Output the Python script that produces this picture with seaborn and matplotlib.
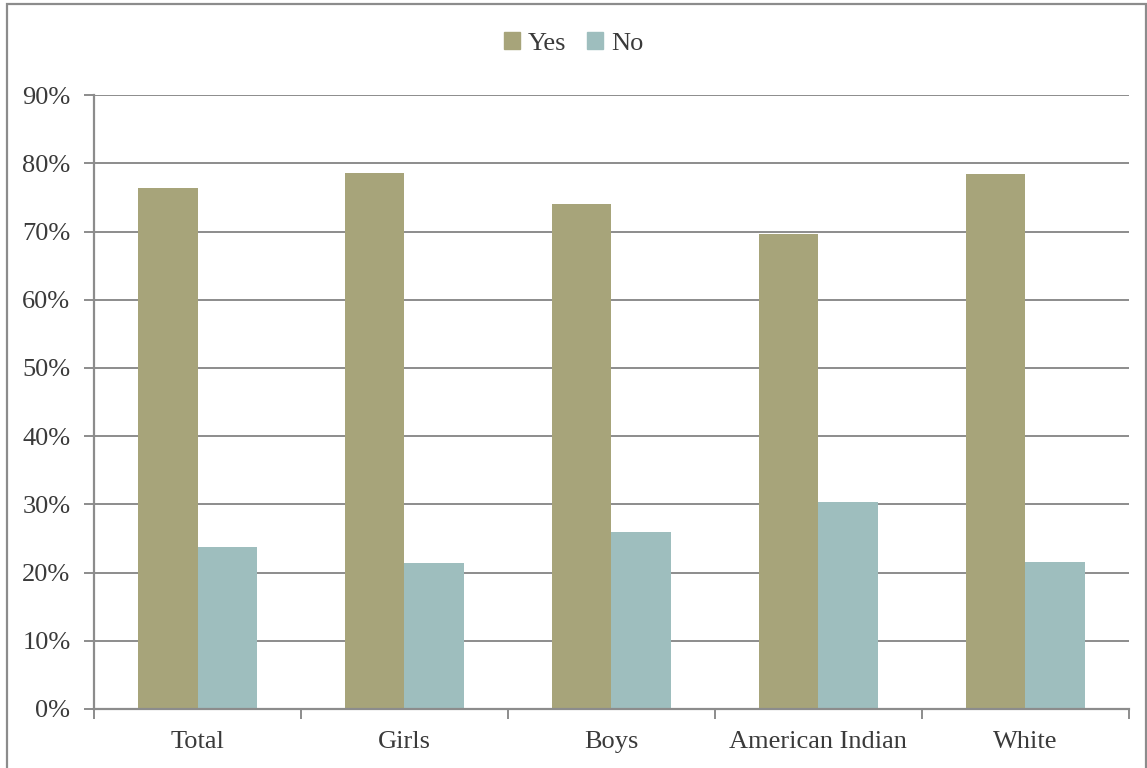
import matplotlib
matplotlib.use("Agg")
import matplotlib.pyplot as plt
import matplotlib.patches as mpatches
from matplotlib.ticker import FixedLocator, PercentFormatter
import seaborn as sns
import pandas as pd

# data
groups = ["Total", "Girls", "Boys", "American Indian", "White"]
yes_vals = [76.4, 78.6, 74.0, 69.6, 78.4]
no_vals = [23.7, 21.4, 26.0, 30.4, 21.6]
y_ticks = [0, 10, 20, 30, 40, 50, 60, 70, 80, 90]

df = pd.DataFrame({
    "group": groups * 2,
    "answer": ["Yes"] * len(groups) + ["No"] * len(groups),
    "pct": yes_vals + no_vals,
})

sns.set_style("white")
plt.rcParams["font.family"] = ["Liberation Serif", "DejaVu Serif"]

grid_col = "#8c8c8c"
text_col = "#3a3a3a"
colors = {"Yes": "#A7A47A", "No": "#9EBEBE"}

fig = plt.figure(figsize=(11.47, 7.68), dpi=100)
ax = fig.add_axes([0.082, 0.077, 0.902, 0.799])

sns.barplot(data=df, x="group", y="pct", hue="answer", palette=colors,
            width=0.575, gap=0, saturation=1, linewidth=0, ax=ax,
            legend=False, zorder=3)

ax.set_ylim(0, 90)
ax.set_xlim(-0.5, len(groups) - 0.5)
ax.yaxis.set_major_locator(FixedLocator(y_ticks))
ax.yaxis.set_major_formatter(PercentFormatter(decimals=0))
ax.grid(axis="y", color=grid_col, linewidth=1.4, zorder=0)
ax.set_axisbelow(True)

# category boundary ticks like the original
ax.xaxis.set_minor_locator(FixedLocator([i - 0.5 for i in range(len(groups) + 1)]))
ax.tick_params(axis="x", which="major", bottom=True, length=0, pad=16,
               labelsize=19, labelcolor=text_col)
ax.tick_params(axis="x", which="minor", bottom=True, length=7, width=1.4,
               color=grid_col, direction="out")
ax.tick_params(axis="y", left=True, length=7, width=1.4, color=grid_col, direction="out",
               labelsize=19, labelcolor=text_col, pad=10)

for side in ["top", "right"]:
    ax.spines[side].set_visible(False)
for side in ["left", "bottom"]:
    ax.spines[side].set_color(grid_col)
    ax.spines[side].set_linewidth(1.6)
ax.spines["bottom"].set_zorder(4)

ax.set_xlabel("")
ax.set_ylabel("")

handles = [mpatches.Patch(color=colors[k], label=k) for k in ["Yes", "No"]]
fig.legend(handles=handles, loc="center", bbox_to_anchor=(0.5, 0.943), ncol=2,
           frameon=False, fontsize=19, handlelength=0.6, handleheight=0.6,
           handletextpad=0.3, columnspacing=0.8, labelcolor=text_col)

# outer border of the chart area
fig.patches.append(mpatches.Rectangle((0.006, -0.01), 0.993, 1.005, transform=fig.transFigure,
                                      fill=False, edgecolor=grid_col, linewidth=1.6))

fig.savefig("out.png", dpi=100)
